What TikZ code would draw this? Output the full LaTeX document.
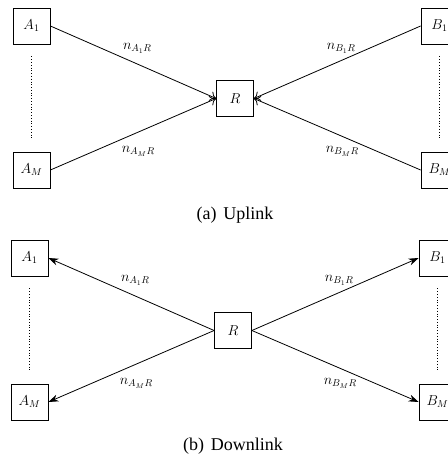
\documentclass[tikz,border=0pt]{standalone}
\usepackage{fontspec}
\newfontfamily\capfont{Liberation Serif}
\usetikzlibrary{positioning}
\usetikzlibrary{arrows.meta}
\tikzset{station/.style={draw, minimum width=37bp, minimum height=36bp, inner sep=0pt, font=\Large},
	%labels of the channels
	chanup/.style={midway, xshift=4bp, yshift=14bp, inner sep=0pt, font=\Large},
	chandown/.style={midway, xshift=5bp, yshift=-17bp, inner sep=0pt, font=\Large},
	dots/.style={dotted, shorten >=12bp, shorten <=12bp},
	up/.style={-{To[length=6bp, width=10bp]}},
	down/.style={-{Stealth[length=10bp, width=7bp]}},
	capt/.style={font=\capfont\fontsize{18bp}{21bp}\selectfont}}

\begin{document}
\begin{tikzpicture}[x=1bp, y=-1bp, line width=0.8bp]
	\useasboundingbox (0,0) rectangle (448,458);
	% (a) uplink
	\node[station] (A1) at (31.5,26) {$A_1$};
	\node[station] (AM) at (31.5,170) {$A_M$};
	\node[station] (R) at (235,98.5) {$R$};
	\node[station] (B1) at (439.5,26) {$B_1$};
	\node[station] (BM) at (439.5,170) {$B_M$};
	\draw[dots] (A1.south) -- (AM.north);
	\draw[dots] (B1.south) -- (BM.north);
	\draw[up] (A1.east) -- node[chanup] {$n_{A_1R}$} (R.west);
	\draw[up] (AM.east) -- node[chandown] {$n_{A_MR}$} (R.west);
	\draw[up] (B1.west) -- node[chanup] {$n_{B_1R}$} (R.east);
	\draw[up] (BM.west) -- node[chandown] {$n_{B_MR}$} (R.east);
	\node[capt] (capa) at (235,215) {(a)\hspace{7bp}Uplink};
	% (b) downlink
	\begin{scope}[shift={(-2,232)}]
		\node[station] (A1b) at (31.5,26) {$A_1$};
		\node[station] (AMb) at (31.5,170) {$A_M$};
		\node[station] (Rb) at (235,98.5) {$R$};
		\node[station] (B1b) at (439.5,26) {$B_1$};
		\node[station] (BMb) at (439.5,170) {$B_M$};
		\draw[dots] (A1b.south) -- (AMb.north);
		\draw[dots] (B1b.south) -- (BMb.north);
		\draw[down] (Rb.west) -- node[chanup] {$n_{A_1R}$} (A1b.east);
		\draw[down] (Rb.west) -- node[chandown] {$n_{A_MR}$} (AMb.east);
		\draw[down] (Rb.east) -- node[chanup] {$n_{B_1R}$} (B1b.west);
		\draw[down] (Rb.east) -- node[chandown] {$n_{B_MR}$} (BMb.west);
		\node[capt] (capb) at (235,214) {(b)\hspace{7bp}Downlink};
	\end{scope}
\end{tikzpicture}
\end{document}
